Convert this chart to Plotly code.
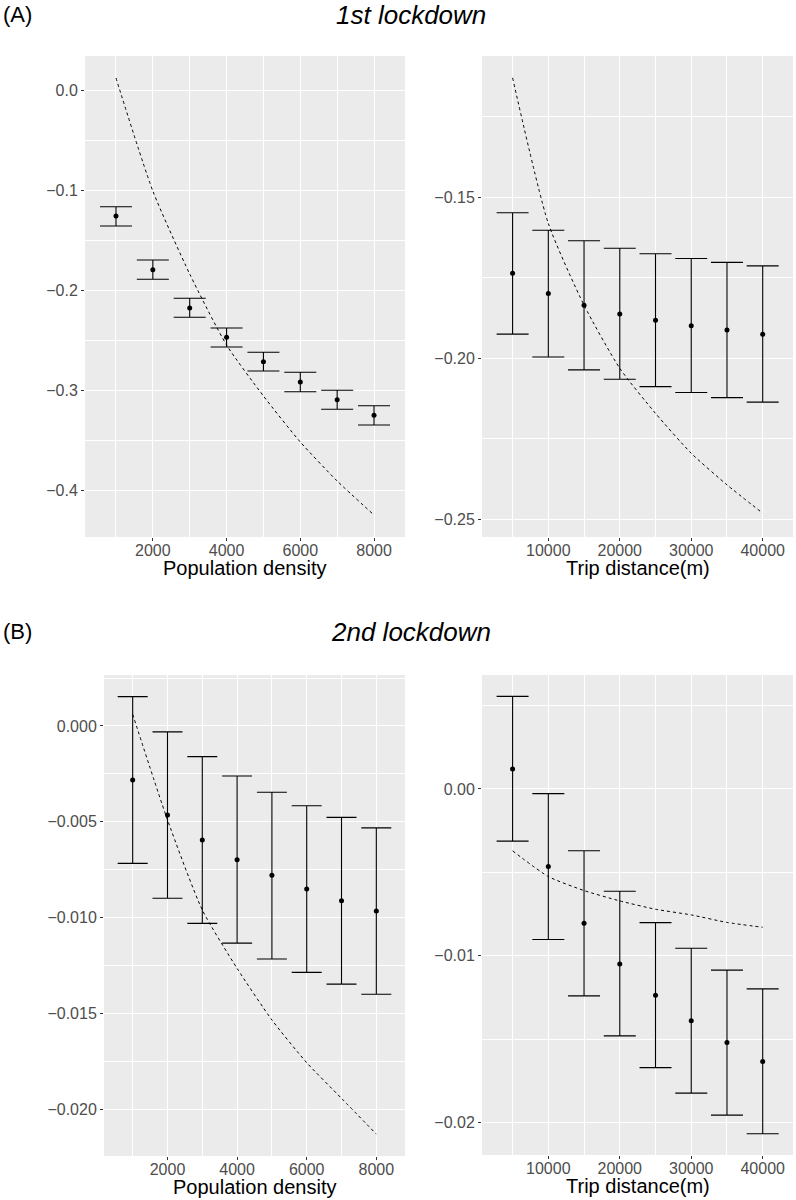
import plotly.graph_objects as go

# ---------------- data ----------------
density_x = [1000, 2000, 3000, 4000, 5000, 6000, 7000, 8000]
distance_x = [5000, 10000, 15000, 20000, 25000, 30000, 35000, 40000]

# (A) 1st lockdown - population density
a_dens_est = [-0.126, -0.1797, -0.218, -0.2473, -0.2717, -0.292, -0.3097, -0.3253]
a_dens_lo = [-0.136, -0.1893, -0.2273, -0.257, -0.281, -0.3017, -0.3193, -0.335]
a_dens_hi = [-0.1167, -0.170, -0.2083, -0.238, -0.2623, -0.2823, -0.3003, -0.3157]
a_dens_fit = [0.012, -0.101, -0.184, -0.255, -0.306, -0.352, -0.391, -0.425]

# (A) 1st lockdown - trip distance
a_dist_est = [-0.1736, -0.1799, -0.1835, -0.1862, -0.1882, -0.1899, -0.1912, -0.1925]
a_dist_lo = [-0.1925, -0.1996, -0.2036, -0.2065, -0.2088, -0.2106, -0.2122, -0.2136]
a_dist_hi = [-0.1548, -0.1602, -0.1635, -0.1658, -0.1675, -0.1690, -0.1702, -0.1713]
a_dist_fit = [-0.1129, -0.1581, -0.1835, -0.2031, -0.2171, -0.2295, -0.2393, -0.2481]

# (B) 2nd lockdown - population density
b_dens_est = [-0.00282, -0.00465, -0.00595, -0.00698, -0.00779, -0.00851, -0.00912, -0.00966]
b_dens_lo = [-0.00717, -0.00899, -0.0103, -0.01133, -0.01216, -0.01286, -0.01347, -0.0140]
b_dens_hi = [0.00153, -0.00031, -0.0016, -0.00261, -0.00346, -0.00416, -0.00477, -0.00532]
b_dens_fit = [0.00061, -0.0049, -0.0096, -0.01265, -0.01534, -0.01757, -0.01943, -0.0213]

# (B) 2nd lockdown - trip distance
b_dist_est = [0.0012, -0.00465, -0.00805, -0.01049, -0.01236, -0.0139, -0.0152, -0.01634]
b_dist_lo = [-0.00313, -0.00902, -0.0124, -0.0148, -0.0167, -0.01823, -0.01955, -0.02067]
b_dist_hi = [0.00555, -0.00028, -0.0037, -0.00613, -0.00801, -0.00955, -0.01086, -0.01198]
b_dist_fit = [-0.00371, -0.00525, -0.00609, -0.00671, -0.00721, -0.00755, -0.00800, -0.00829]

density_ticks = [2000, 4000, 6000, 8000]
density_minor = [1000, 3000, 5000, 7000]
distance_ticks = [10000, 20000, 30000, 40000]
distance_minor = [5000, 15000, 25000, 35000]

a_dens_yticks = [-0.4, -0.3, -0.2, -0.1, 0.0]
a_dens_yminor = [-0.35, -0.25, -0.15, -0.05]
a_dist_yticks = [-0.25, -0.20, -0.15]
a_dist_yminor = [-0.225, -0.175, -0.125]
b_dens_yticks = [-0.020, -0.015, -0.010, -0.005, 0.000]
b_dens_yminor = [-0.0175, -0.0125, -0.0075, -0.0025, 0.0025]
b_dist_yticks = [-0.02, -0.01, 0.00]
b_dist_yminor = [-0.015, -0.005, 0.005]

panel_titles = ["1st lockdown", "2nd lockdown"]
panel_tags = ["(A)", "(B)"]
x_titles = ["Population density", "Trip distance(m)"]

# ---------------- layout geometry ----------------
W, H = 796, 1200
FONT = "Liberation Sans, Arial, Helvetica, sans-serif"


def px_x(p):
    return p / W


def px_y(p):
    return 1 - p / H


panels = [
    (density_x, a_dens_est, a_dens_lo, a_dens_hi, a_dens_fit, (85, 405), (56, 537),
     [160, 8840], [-0.447, 0.034], density_ticks, density_minor, a_dens_yticks, a_dens_yminor, ".1f", 16),
    (distance_x, a_dist_est, a_dist_lo, a_dist_hi, a_dist_fit, (482, 793), (56, 537),
     [720, 44240], [-0.2555, -0.1061], distance_ticks, distance_minor, a_dist_yticks, a_dist_yminor, ".2f", 16),
    (density_x, b_dens_est, b_dens_lo, b_dens_hi, b_dens_fit, (104, 405), (675, 1156),
     [176, 8824], [-0.02244, 0.00266], density_ticks, density_minor, b_dens_yticks, b_dens_yminor, ".3f", 15),
    (distance_x, b_dist_est, b_dist_lo, b_dist_hi, b_dist_fit, (482, 793), (675, 1155),
     [720, 44240], [-0.02194, 0.00683], distance_ticks, distance_minor, b_dist_yticks, b_dist_yminor, ".2f", 16),
]

fig = go.Figure()
layout = dict(
    width=W, height=H,
    margin=dict(l=0, r=0, t=0, b=0),
    paper_bgcolor="white",
    plot_bgcolor="#EBEBEB",
    showlegend=False,
    font=dict(family=FONT, color="#000000"),
)

annotations = []

for i, (xs, est, lo, hi, fit, xd, yd, xr, yr, xt, xm, yt, ym, yfmt, capw) in enumerate(panels):
    n = i + 1
    xa = "x" if n == 1 else f"x{n}"
    ya = "y" if n == 1 else f"y{n}"
    xkey = "xaxis" if n == 1 else f"xaxis{n}"
    ykey = "yaxis" if n == 1 else f"yaxis{n}"

    # fitted dashed curve
    fig.add_trace(go.Scatter(
        x=xs, y=fit, mode="lines", xaxis=xa, yaxis=ya,
        line=dict(color="black", width=1, dash="3px,3px", shape="spline", smoothing=0.6),
        hoverinfo="skip",
    ))
    # estimates with CI
    fig.add_trace(go.Scatter(
        x=xs, y=est, mode="markers", xaxis=xa, yaxis=ya,
        marker=dict(color="black", size=5),
        error_y=dict(
            type="data", symmetric=False,
            array=[h - e for h, e in zip(hi, est)],
            arrayminus=[e - l for e, l in zip(est, lo)],
            color="black", thickness=1.1, width=capw,
        ),
    ))

    layout[xkey] = dict(
        domain=[px_x(xd[0]), px_x(xd[1])], range=xr, anchor=ya,
        tickvals=xt, tickformat="d", showgrid=True, gridcolor="white", gridwidth=1.1,
        minor=dict(tickvals=xm, showgrid=True, gridcolor="white", gridwidth=0.55),
        ticks="outside", ticklen=3, tickwidth=1, tickcolor="#333333",
        tickfont=dict(size=16, color="#4D4D4D", family=FONT),
        ticklabelstandoff=-4,
        zeroline=False, showline=False, fixedrange=True,
    )
    layout[ykey] = dict(
        domain=[px_y(yd[1]), px_y(yd[0])], range=yr, anchor=xa,
        tickvals=yt, tickformat=yfmt, showgrid=True, gridcolor="white", gridwidth=1.1,
        minor=dict(tickvals=ym, showgrid=True, gridcolor="white", gridwidth=0.55),
        ticks="outside", ticklen=3, tickwidth=1, tickcolor="#333333",
        tickfont=dict(size=16, color="#4D4D4D", family=FONT),
        zeroline=False, showline=False, fixedrange=True,
    )

    # x axis title
    annotations.append(dict(
        text=x_titles[i % 2], xref="paper", yref="paper",
        x=px_x((xd[0] + xd[1]) / 2), y=px_y(yd[1] + 31),
        xanchor="center", yanchor="middle", showarrow=False,
        font=dict(size=20, color="black", family=FONT),
    ))

# row tags and titles
for r, (tag, title, ypx) in enumerate(zip(panel_tags, panel_titles, [15, 632])):
    annotations.append(dict(
        text=tag, xref="paper", yref="paper", x=px_x(1), y=px_y(ypx),
        xanchor="left", yanchor="middle", showarrow=False,
        font=dict(size=22, color="black", family=FONT),
    ))
    annotations.append(dict(
        text=f"<i>{title}</i>", xref="paper", yref="paper", x=px_x(411), y=px_y(ypx),
        xanchor="center", yanchor="middle", showarrow=False,
        font=dict(size=26, color="black", family=FONT),
    ))

layout["annotations"] = annotations
fig.update_layout(**layout)

fig.write_html(
    "out.html",
    config={"displayModeBar": False},
    post_script="document.body.style.margin='0';document.body.style.overflow='hidden';",
)
